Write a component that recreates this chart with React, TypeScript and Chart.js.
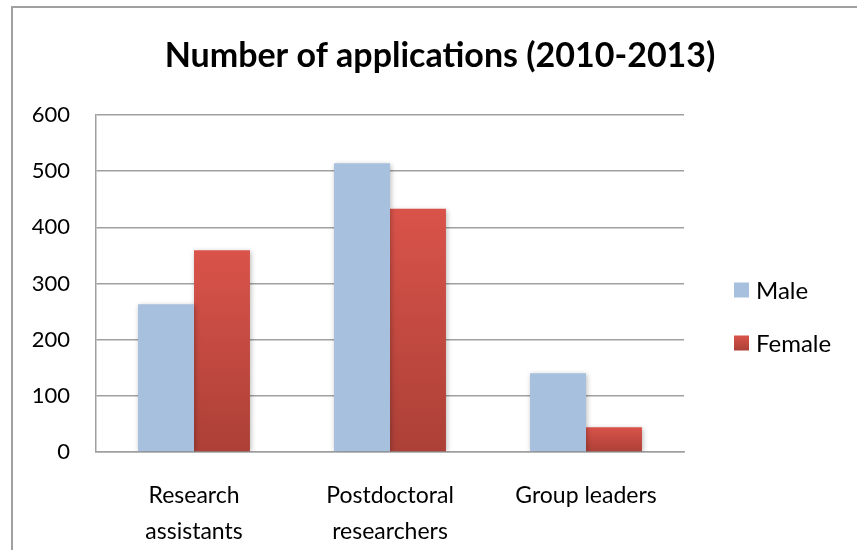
import React, { useEffect, useRef } from "react";
import { Chart, registerables } from "chart.js";

Chart.register(...registerables);

const categories: string[][] = [
  ["Research", "assistants"],
  ["Postdoctoral", "researchers"],
  ["Group leaders"],
];
const maleValues = [263, 514, 140];
const femaleValues = [359, 433, 44];
const seriesNames = ["Male", "Female"];
const titleText = "Number of applications (2010-2013)";

const FONT = "Lato, 'Open Sans', sans-serif";
const MALE_COLOR = "#A7C0DE";
const FEMALE_TOP = "#D9534A";
const FEMALE_BOTTOM = "#AC4037";
const GRID = "#A0A0A0";

const framePlugin = {
  id: "frame",
  beforeDraw(chart: any) {
    const ctx = chart.ctx;
    ctx.save();
    ctx.fillStyle = "#ffffff";
    ctx.fillRect(0, 0, chart.width, chart.height);
    ctx.strokeStyle = "#A0A0A0";
    ctx.lineWidth = 2;
    ctx.beginPath();
    ctx.moveTo(12, chart.height + 5);
    ctx.lineTo(12, 7);
    ctx.lineTo(chart.width + 5, 7);
    ctx.stroke();
    ctx.restore();
  },
  beforeDatasetsDraw(chart: any) {
    const ctx = chart.ctx;
    ctx.save();
    ctx.shadowColor = "rgba(0,0,0,0.28)";
    ctx.shadowBlur = 5;
    ctx.shadowOffsetX = 1;
    ctx.shadowOffsetY = 1;
  },
  afterDatasetsDraw(chart: any) {
    chart.ctx.restore();
  },
  afterDraw(chart: any) {
    const ctx = chart.ctx;
    const area = chart.chartArea;
    // title, centred on the outer frame
    ctx.save();
    ctx.font = `bold 34px ${FONT}`;
    ctx.textAlign = "center";
    ctx.textBaseline = "alphabetic";
    ctx.fillStyle = "#000";
    ctx.fillText(titleText, 440, 67);
    ctx.restore();

    // legend
    const x0 = area.right + 50;
    const cy = (area.top + area.bottom) / 2 + 33;
    const gap = 53;
    const box = 15;
    ctx.save();
    ctx.font = `24px ${FONT}`;
    ctx.textAlign = "left";
    ctx.textBaseline = "middle";
    chart.data.datasets.forEach((ds: any, i: number) => {
      const y = cy - gap / 2 + i * gap;
      if (i === 0) {
        ctx.fillStyle = MALE_COLOR;
      } else {
        const g = ctx.createLinearGradient(0, y - box / 2, 0, y + box / 2);
        g.addColorStop(0, FEMALE_TOP);
        g.addColorStop(1, FEMALE_BOTTOM);
        ctx.fillStyle = g;
      }
      ctx.fillRect(x0, y - box / 2, box, box);
      ctx.fillStyle = "#000";
      ctx.fillText(ds.label, x0 + box + 7, y + 1);
    });
    ctx.restore();
  },
};

function femaleFill(context: any) {
  const chart = context.chart;
  const y = chart.scales && chart.scales.y;
  if (!y || !context.parsed) return FEMALE_TOP;
  const top = y.getPixelForValue(context.parsed.y);
  const bottom = y.getPixelForValue(0);
  if (!isFinite(top) || !isFinite(bottom) || top === bottom) return FEMALE_TOP;
  const g = chart.ctx.createLinearGradient(0, top, 0, bottom);
  g.addColorStop(0, FEMALE_TOP);
  g.addColorStop(1, FEMALE_BOTTOM);
  return g;
}

export default function App() {
  const ref = useRef<HTMLCanvasElement | null>(null);
  useEffect(() => {
    if (!ref.current) return;
    const chart = new Chart(ref.current, {
      type: "bar",
      data: {
        labels: categories,
        datasets: [
          {
            label: seriesNames[0],
            data: maleValues,
            backgroundColor: MALE_COLOR,
            borderWidth: 0,
          },
          {
            label: seriesNames[1],
            data: femaleValues,
            backgroundColor: femaleFill,
            borderWidth: 0,
          },
        ],
      },
      options: {
        animation: false,
        responsive: false,
        maintainAspectRatio: false,
        events: [],
        layout: { padding: { left: 0, right: 173, top: 115, bottom: 0 } },
        datasets: {
          bar: { categoryPercentage: 0.571, barPercentage: 1 },
        },
        plugins: {
          legend: { display: false },
          tooltip: { enabled: false },
          title: { display: false },
        },
        scales: {
          x: {
            grid: { display: false, drawTicks: false },
            border: { display: true, color: GRID, width: 1.5 },
            ticks: {
              color: "#000",
              font: { family: FONT, size: 23, lineHeight: "36px" as any },
              padding: 26,
              maxRotation: 0,
              autoSkip: false,
            },
            afterFit(scale: any) {
              scale.height = 98;
            },
          },
          y: {
            min: 0,
            max: 600,
            ticks: {
              stepSize: 100,
              color: "#000",
              font: { family: FONT, size: 22 },
              padding: 26,
            },
            grid: { color: GRID, lineWidth: 1.5, drawTicks: false },
            border: { display: true, color: GRID, width: 1.5 },
            afterFit(scale: any) {
              scale.width = 96;
            },
          },
        },
      },
      plugins: [framePlugin],
    });
    return () => chart.destroy();
  }, []);
  return (
    <div style={{ position: "fixed", left: 0, top: 0, width: 857, height: 550 }}>
      <canvas ref={ref} width={857} height={550} style={{ display: "block" }} />
    </div>
  );
}
